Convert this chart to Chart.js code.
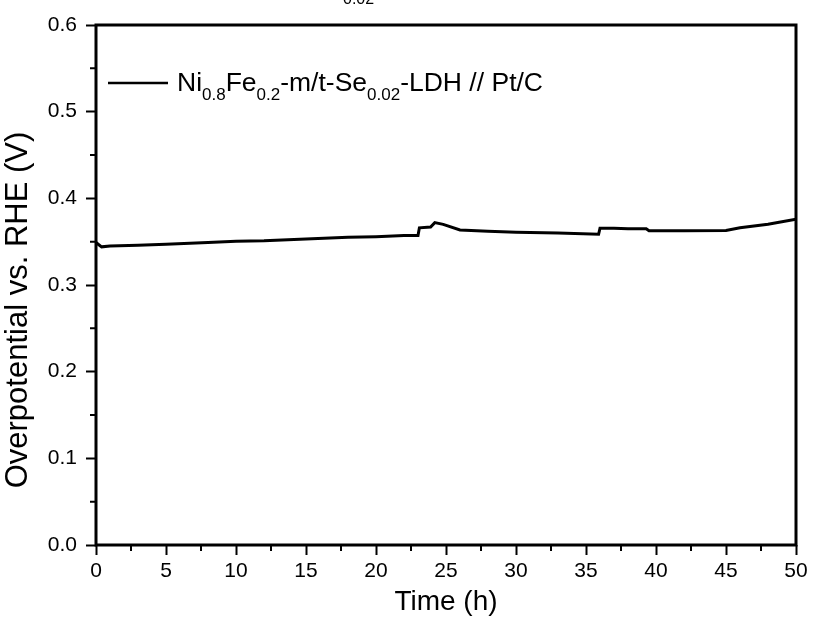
<!DOCTYPE html>
<html>
<head>
<meta charset="utf-8">
<script src="https://cdn.jsdelivr.net/npm/chart.js@4"></script>
<style>
  html, body { margin: 0; padding: 0; background: #fff; }
  #contenedor { width: 813px; height: 623px; }
</style>
</head>
<body>
<div id="contenedor"><canvas id="miGrafica" width="813" height="623"></canvas></div>
<script>
// Datos (tiempo en h, sobrepotencial en V)
const tiempos = [0, 0.4, 1, 3, 5, 8, 10, 12, 15, 18, 20, 22, 23.0, 23.1, 23.9, 24.2, 24.8, 26, 28, 30, 33, 35.9, 36.0, 37, 38, 39.3, 39.5, 42, 45, 46, 48, 50];
const sobrepotencial = [0.349, 0.344, 0.345, 0.346, 0.347, 0.349, 0.3505, 0.351, 0.353, 0.355, 0.3557, 0.357, 0.357, 0.366, 0.367, 0.372, 0.370, 0.3635, 0.362, 0.361, 0.360, 0.3585, 0.3655, 0.3655, 0.365, 0.3648, 0.3625, 0.3625, 0.363, 0.366, 0.370, 0.376];

// Ticks menores de los ejes
const ticksMenoresX = [2.5, 7.5, 12.5, 17.5, 22.5, 27.5, 32.5, 37.5, 42.5, 47.5];
const ticksMenoresY = [0.05, 0.15, 0.25, 0.35, 0.45, 0.55];

// Leyenda con subíndices: [texto, esSubindice]
const partesLeyenda = [
  ['Ni', false], ['0.8', true], ['Fe', false], ['0.2', true],
  ['-m/t-Se', false], ['0.02', true], ['-LDH // Pt/C', false]
];

const tituloY = 'Overpotential vs. RHE (V)';
const fuente = 'Liberation Sans, Arial, sans-serif';

// Marco, ticks menores, leyenda, título del eje Y y resto del título
const pluginMarco = {
  id: 'marco',
  afterDraw(chart) {
    const { ctx, chartArea: area, scales } = chart;
    ctx.save();
    ctx.strokeStyle = '#000';
    ctx.lineWidth = 3;
    ctx.strokeRect(area.left, area.top, area.right - area.left, area.bottom - area.top);

    // ticks menores
    ctx.lineWidth = 2;
    ctx.beginPath();
    ticksMenoresX.forEach(v => {
      const x = scales.x.getPixelForValue(v);
      ctx.moveTo(x, area.bottom);
      ctx.lineTo(x, area.bottom + 6);
    });
    ticksMenoresY.forEach(v => {
      const y = scales.y.getPixelForValue(v);
      ctx.moveTo(area.left, y);
      ctx.lineTo(area.left - 6, y);
    });
    ctx.stroke();

    // leyenda
    const yLey = 83;
    ctx.lineWidth = 2.5;
    ctx.beginPath();
    ctx.moveTo(108, yLey);
    ctx.lineTo(168, yLey);
    ctx.stroke();

    ctx.fillStyle = '#000';
    ctx.textBaseline = 'alphabetic';
    let x = 177;
    partesLeyenda.forEach(([texto, sub]) => {
      ctx.font = (sub ? '17px ' : '26.5px ') + fuente;
      ctx.fillText(texto, x, sub ? 100 : 91);
      x += ctx.measureText(texto).width;
    });

    // título del eje Y (algo más abajo que el centro del eje)
    ctx.save();
    ctx.translate(18.6, 310);
    ctx.rotate(-Math.PI / 2);
    ctx.font = '31px ' + fuente;
    ctx.textAlign = 'center';
    ctx.textBaseline = 'middle';
    ctx.fillText(tituloY, 0, 0);
    ctx.restore();

    // resto del título cortado arriba
    ctx.font = '16px ' + fuente;
    ctx.fillText('0.02', 343, 4);
    ctx.restore();
  }
};

const $grafica = document.getElementById('miGrafica').getContext('2d');

let miGrafica = new Chart($grafica, {
  type: 'line',
  data: {
    datasets: [{
      label: 'Ni0.8Fe0.2-m/t-Se0.02-LDH // Pt/C',
      data: tiempos.map((t, i) => ({ x: t, y: sobrepotencial[i] })),
      borderColor: '#000',
      borderWidth: 3,
      pointRadius: 0,
      tension: 0,
      fill: false
    }]
  },
  options: {
    responsive: false,
    animation: false,
    layout: { padding: { top: 25, right: 17, left: 0, bottom: 0 } },
    plugins: {
      legend: { display: false },
      tooltip: { enabled: false }
    },
    scales: {
      x: {
        type: 'linear',
        min: 0,
        max: 50,
        afterFit: (scale) => { scale.height = 78; },
        border: { display: false },
        grid: { drawOnChartArea: false, drawTicks: true, tickLength: 10, tickWidth: 2, tickColor: '#000' },
        ticks: { stepSize: 5, color: '#000', padding: 4, font: { family: fuente, size: 21 }, maxRotation: 0 },
        title: { display: true, text: 'Time (h)', color: '#000', font: { family: fuente, size: 28 }, padding: { top: 0, bottom: 4 } }
      },
      y: {
        min: 0,
        max: 0.6,
        afterFit: (scale) => { scale.width = 96; },
        border: { display: false },
        grid: { drawOnChartArea: false, drawTicks: true, tickLength: 10, tickWidth: 2, tickColor: '#000' },
        ticks: { stepSize: 0.1, color: '#000', padding: 9, font: { family: fuente, size: 21 }, callback: v => v.toFixed(1) },
        title: { display: false }
      }
    }
  },
  plugins: [pluginMarco]
});
</script>
</body>
</html>
